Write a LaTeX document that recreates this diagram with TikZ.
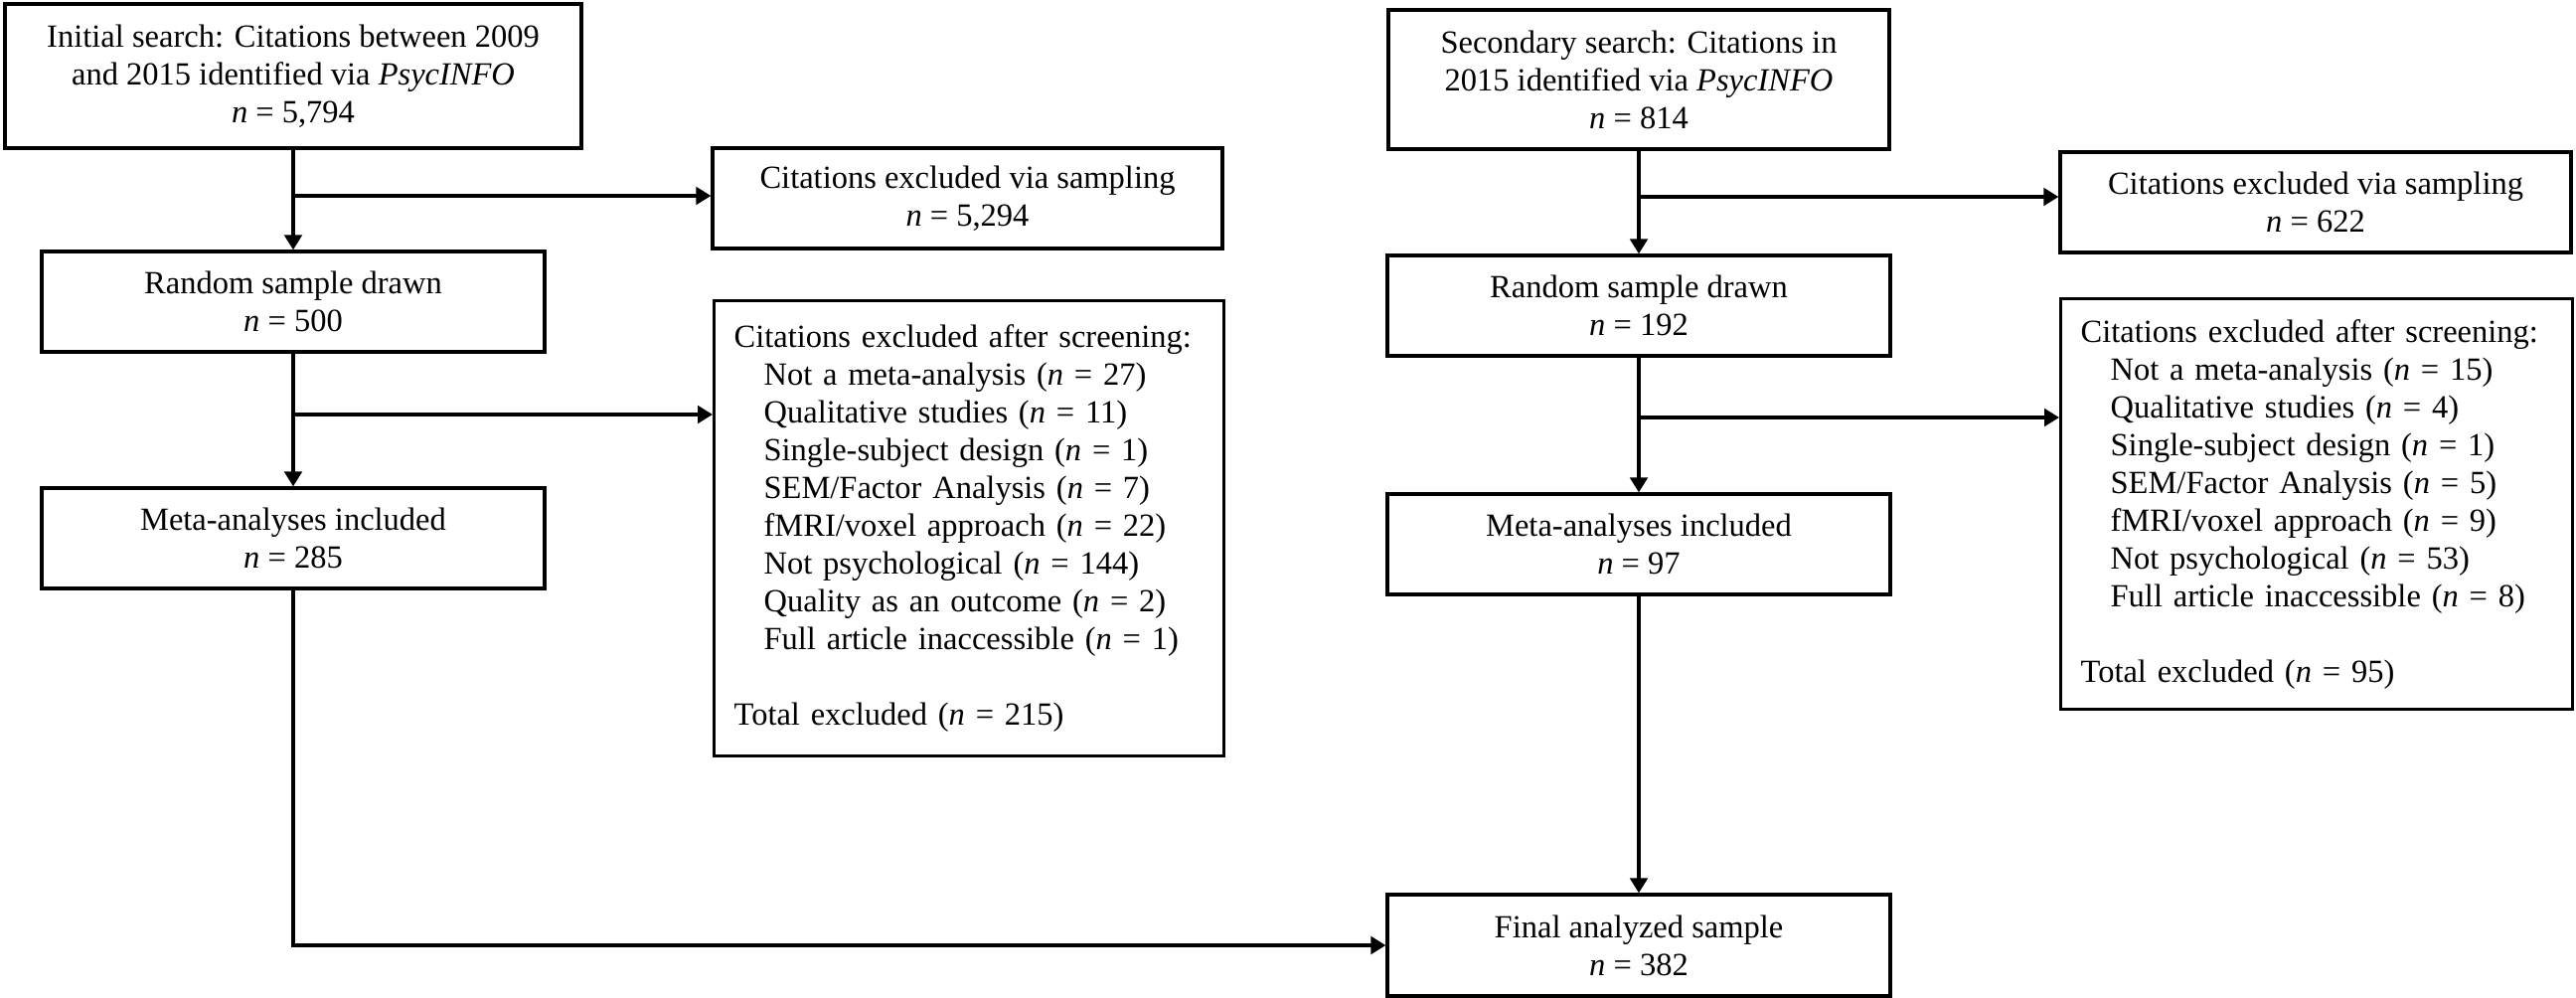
\documentclass[tikz,border=0pt]{standalone}
\usepackage{fontspec}
\setmainfont{Liberation Serif}
\usetikzlibrary{arrows.meta}

\tikzset{
  box/.style={draw, line width=1.3pt, align=center, inner sep=0pt,
    font=\fontsize{13}{15.2}\selectfont},
  listbox/.style={draw, line width=1.3pt, align=left, anchor=north west,
    inner xsep=8pt, inner ysep=0pt, font=\fontsize{13}{15.2}\selectfont},
  arr/.style={line width=1.4pt, -{Triangle[length=6pt,width=7pt]}}
}
\newcommand{\ind}{\hspace*{12pt}}

\begin{document}
\begin{tikzpicture}[x=0.4pt, y=-0.4pt]
        \useasboundingbox (0,0) rectangle (2592,1004);

            % initial search
            \node[box, minimum width=232pt, minimum height=58pt] (init) at (295,76.5) {Initial search: Citations between 2009\\ and 2015 identified via \textit{PsycINFO}\\ \textit{n} = 5,794};
            \node[box, minimum width=205.2pt, minimum height=40.4pt] (exsamp) at (973.5,199.5) {Citations excluded via sampling\\ \textit{n} = 5,294};
            \node[box, minimum width=202.4pt, minimum height=40.4pt] (rand) at (295,303.5) {Random sample drawn\\ \textit{n} = 500};
            \node[listbox, minimum width=205.2pt, minimum height=183.2pt, text width=189.2pt] (exscr) at (717,301) {Citations excluded after screening:\\
              \ind Not a meta-analysis (\textit{n} = 27)\\
              \ind Qualitative studies (\textit{n} = 11)\\
              \ind Single-subject design (\textit{n} = 1)\\
              \ind SEM/Factor Analysis (\textit{n} = 7)\\
              \ind fMRI/voxel approach (\textit{n} = 22)\\
              \ind Not psychological (\textit{n} = 144)\\
              \ind Quality as an outcome (\textit{n} = 2)\\
              \ind Full article inaccessible (\textit{n} = 1)\\[15.2pt]
              Total excluded (\textit{n} = 215)};
            \node[box, minimum width=202.4pt, minimum height=40.4pt] (meta) at (295,541.5) {Meta-analyses included\\ \textit{n} = 285};

            % secondary search
            \node[box, minimum width=201.6pt, minimum height=56pt] (sec) at (1649,80) {Secondary search: Citations in\\ 2015 identified via \textit{PsycINFO}\\ \textit{n} = 814};
            \node[box, minimum width=205.6pt, minimum height=40.4pt] (exsampb) at (2330,203.5) {Citations excluded via sampling\\ \textit{n} = 622};
            \node[box, minimum width=202.4pt, minimum height=40.4pt] (randb) at (1649,307.5) {Random sample drawn\\ \textit{n} = 192};
            \node[listbox, minimum width=206pt, minimum height=165.2pt, text width=190pt] (exscrb) at (2072,299) {Citations excluded after screening:\\
              \ind Not a meta-analysis (\textit{n} = 15)\\
              \ind Qualitative studies (\textit{n} = 4)\\
              \ind Single-subject design (\textit{n} = 1)\\
              \ind SEM/Factor Analysis (\textit{n} = 5)\\
              \ind fMRI/voxel approach (\textit{n} = 9)\\
              \ind Not psychological (\textit{n} = 53)\\
              \ind Full article inaccessible (\textit{n} = 8)\\[15.2pt]
              Total excluded (\textit{n} = 95)};
            \node[box, minimum width=202.4pt, minimum height=40.4pt] (metab) at (1649,547.5) {Meta-analyses included\\ \textit{n} = 97};

            % final sample
            \node[box, minimum width=202.4pt, minimum height=40.8pt] (final) at (1649,951) {Final analyzed sample\\ \textit{n} = 382};

            \coordinate (j1) at (295,197);
            \coordinate (j2) at (295,417);
            \coordinate (j3) at (1649,198);
            \coordinate (j4) at (1649,420);

            \draw[arr] (init) -- (rand);
            \draw[arr] (j1) -- (j1 -| exsamp.west);
            \draw[arr] (rand) -- (meta);
            \draw[arr] (j2) -- (j2 -| exscr.west);
            \draw[arr] (meta.south) |- (final.west);
            \draw[arr] (sec) -- (randb);
            \draw[arr] (j3) -- (j3 -| exsampb.west);
            \draw[arr] (randb) -- (metab);
            \draw[arr] (j4) -- (j4 -| exscrb.west);
            \draw[arr] (metab) -- (final);

        \end{tikzpicture}
\end{document}
